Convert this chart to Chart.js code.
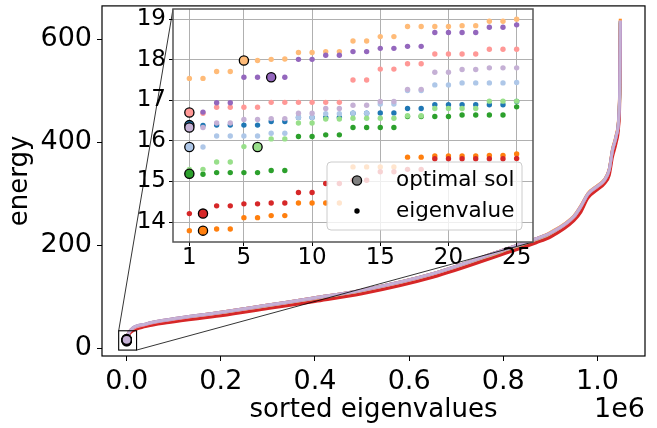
<!DOCTYPE html>
<html><head><meta charset="utf-8">
<script src="https://cdn.jsdelivr.net/npm/chart.js@4.4.1/dist/chart.umd.min.js"></script>
<style>
html,body{margin:0;padding:0;background:#fff;}
#wrap{position:relative;width:657px;height:428px;overflow:hidden;}
#wrap canvas{position:absolute;left:0;top:0;}
</style></head><body>
<div id="wrap"><canvas id="main" width="657" height="428"></canvas><canvas id="inset" width="657" height="428"></canvas></div>
<script>
// ---------------- data ----------------
// main panel: sorted eigenvalue index -> energy (one curve per Hamiltonian)
const spectrumIndex = [0, 2000, 10000, 40000, 90000, 200000, 300000, 400000, 500000, 650000, 800000, 870000, 900000, 950000, 965000, 980000, 1000000, 1015000, 1025000, 1032000, 1040000, 1045000, 1047500, 1048575];
const specBlue        = [16.4, 25, 36, 46, 55, 69, 83, 97, 112, 144, 190, 212, 223, 255, 275, 299, 314, 326, 346, 384, 412, 444, 512, 635];
const specLightBlue   = [15.9, 24, 36, 46, 55, 69, 83, 97, 112, 144, 190, 212, 223, 255, 274, 299, 314, 326, 346, 383, 411, 443, 511, 635];
const specOrange      = [13.8, 23, 35, 46, 55, 70, 84, 98, 113, 145, 191, 213, 225, 257, 277, 301, 316, 328, 348, 387, 415, 448, 520, 640];
const specLightOrange = [17.5, 26, 37, 47, 56, 70, 84, 98, 113, 145, 191, 213, 225, 257, 277, 301, 316, 328, 348, 386, 414, 447, 518, 638];
const specGreen       = [15.2, 24, 35, 45, 54, 68, 82, 96, 111, 143, 189, 211, 222, 254, 273, 298, 313, 325, 345, 382, 410, 442, 508, 634];
const specLightGreen  = [15.3, 24, 35, 45, 53, 67, 81, 95, 110, 142, 188, 210, 221, 253, 272, 297, 312, 324, 343, 380, 408, 440, 505, 634];
const specRed         = [14.2, 22, 32, 42, 50, 63, 77, 91, 106, 138, 183, 205, 216, 248, 265, 292, 308, 320, 336, 372, 400, 430, 490, 632];
const specLightRed    = [16.7, 25, 36, 46, 55, 69, 83, 97, 112, 144, 190, 212, 223, 255, 275, 299, 314, 326, 346, 384, 412, 444, 512, 635];
const specPurple      = [16.7, 25, 37, 47, 56, 70, 84, 98, 113, 145, 191, 213, 224, 256, 276, 300, 315, 327, 347, 385, 413, 445, 515, 636];
const specLightPurple = [16.3, 25, 37, 47, 56, 70, 84, 98, 113, 145, 191, 213, 224, 256, 276, 300, 315, 327, 347, 385, 413, 445, 515, 636];

// inset: first 25 eigenvalues of each Hamiltonian
const eigIndex = [1,2,3,4,5,6,7,8,9,10,11,12,13,14,15,16,17,18,19,20,21,22,23,24,25];
const eigBlue        = [16.39,16.38,16.39,16.39,16.39,16.39,16.48,16.48,16.58,16.58,16.58,16.58,16.68,16.68,16.69,16.69,16.80,16.80,16.89,16.89,16.89,16.89,16.89,16.89,16.97];
const eigLightBlue   = [15.85,15.85,16.12,16.12,16.12,16.12,16.19,16.19,16.58,16.58,16.67,16.67,16.68,16.68,16.91,16.91,17.24,17.24,17.38,17.38,17.43,17.43,17.43,17.43,17.44];
const eigOrange      = [13.79,13.79,13.83,13.83,14.11,14.11,14.16,14.16,14.47,14.47,14.47,14.47,15.36,15.36,15.36,15.36,15.60,15.60,15.63,15.63,15.63,15.63,15.64,15.64,15.68];
const eigLightOrange = [17.54,17.54,17.71,17.71,17.98,17.98,18.01,18.02,18.18,18.18,18.20,18.20,18.46,18.46,18.57,18.57,18.82,18.82,18.82,18.82,18.84,18.84,18.95,18.95,19.00];
const eigGreen       = [15.19,15.18,15.22,15.22,15.22,15.22,15.27,15.27,16.11,16.11,16.15,16.15,16.33,16.33,16.33,16.33,16.60,16.60,16.60,16.60,16.64,16.64,16.64,16.64,16.84];
const eigLightGreen  = [15.30,15.30,15.48,15.48,15.86,15.85,16.05,16.05,16.44,16.44,16.54,16.54,16.56,16.56,16.56,16.56,16.62,16.62,16.80,16.80,16.80,16.80,16.98,16.98,16.98];
const eigRed         = [14.21,14.21,14.40,14.40,14.45,14.45,14.47,14.47,14.73,14.73,14.95,14.95,15.03,15.03,15.24,15.24,15.30,15.30,15.56,15.56,15.56,15.56,15.56,15.56,15.57];
const eigLightRed    = [16.70,16.68,16.83,16.83,16.83,16.83,16.95,16.95,16.95,16.95,16.95,16.95,17.50,17.50,17.77,17.77,17.90,17.90,18.14,18.14,18.14,18.14,18.26,18.26,18.26];
const eigPurple      = [16.71,16.71,16.94,16.94,17.57,17.57,17.57,17.57,18.01,18.01,18.11,18.11,18.20,18.20,18.28,18.28,18.33,18.33,18.67,18.67,18.67,18.67,18.80,18.80,18.86];
const eigLightPurple = [16.33,16.33,16.44,16.44,16.53,16.53,16.55,16.55,16.68,16.68,16.80,16.80,16.88,16.88,16.97,16.97,17.27,17.27,17.69,17.69,17.76,17.76,17.80,17.80,17.80];

// optimal solution of each Hamiltonian: (position among sorted eigenvalues, energy)
const optIndex  = [1, 1, 2, 5, 1, 6, 2, 1, 7, 1];
const optEnergy = [16.39, 15.85, 13.79, 17.98, 15.19, 15.85, 14.21, 16.70, 17.57, 16.33];

// ticks & labels
const mainXTicks = [0, 200000, 400000, 600000, 800000, 1000000];
const mainYTicks = [0, 200, 400, 600];
const insetXTicks = [1, 5, 10, 15, 20, 25];
const insetYTicks = [14, 15, 16, 17, 18, 19];
const legendLabels = ['optimal sol', 'eigenvalue'];
const xTitle = 'sorted eigenvalues';
const yTitle = 'energy';
const xOffsetText = '1e6';

// ---------------- style / layout ----------------
const palette = ['#1f77b4','#aec7e8','#ff7f0e','#ffbb78','#2ca02c','#98df8a','#d62728','#ff9896','#9467bd','#c5b0d5'];
const FONT = 'DejaVu Sans';
const mainRange = {xmin: -52429, xmax: 1101004, ymin: -15, ymax: 665};
const insetRange = {xmin: -0.2, xmax: 26.2, ymin: 13.51, ymax: 19.25};
const zoomBox = {x0: -17000, x1: 21000, y0: -3.5, y1: 34};   // indicator rectangle (data coords)
const insetArea = {left: 173, top: 9, right: 533, bottom: 242}; // inset axes in pixels

Chart.defaults.font.family = FONT;
Chart.defaults.color = '#000';
Chart.defaults.animation = false;

const spectra = [specBlue, specLightBlue, specOrange, specLightOrange, specGreen, specLightGreen, specRed, specLightRed, specPurple, specLightPurple];
const eigs = [eigBlue, eigLightBlue, eigOrange, eigLightOrange, eigGreen, eigLightGreen, eigRed, eigLightRed, eigPurple, eigLightPurple];

const noPad = s => { s.paddingTop = 0; s.paddingBottom = 0; s.paddingLeft = 0; s.paddingRight = 0; };

// ---------------- main chart ----------------
const mainSets = [];
spectra.forEach((arr, k) => mainSets.push({
  data: arr.map((v, i) => ({x: spectrumIndex[i], y: v})),
  showLine: true, pointRadius: 0, pointHoverRadius: 0, borderColor: palette[k], borderWidth: 3,
  cubicInterpolationMode: 'monotone', fill: false
}));
optIndex.forEach((ix, k) => mainSets.push({
  data: [{x: ix, y: optEnergy[k]}],
  pointRadius: 4.6, pointHoverRadius: 4.6, backgroundColor: palette[k], borderColor: '#000', borderWidth: 1.3
}));
mainSets.forEach((d, i) => { d.order = -i; });   // later series drawn on top

const mainDecor = {
  id: 'mainDecor',
  afterDatasetsDraw(chart) {
    const {ctx, chartArea: a, scales: {x, y}} = chart;
    ctx.save();
    const rx0 = x.getPixelForValue(zoomBox.x0), rx1 = x.getPixelForValue(zoomBox.x1);
    const ry0 = y.getPixelForValue(zoomBox.y1), ry1 = y.getPixelForValue(zoomBox.y0);
    ctx.strokeStyle = '#000'; ctx.lineWidth = 1.1;
    ctx.strokeRect(rx0, ry0, rx1 - rx0, ry1 - ry0);
    ctx.lineWidth = 0.8;
    ctx.beginPath();
    ctx.moveTo(rx0, ry0); ctx.lineTo(insetArea.left, insetArea.top);
    ctx.moveTo(rx1, ry1); ctx.lineTo(insetArea.right, insetArea.bottom);
    ctx.stroke();
    ctx.lineWidth = 1.2;
    ctx.strokeRect(a.left, a.top, a.right - a.left, a.bottom - a.top);
    ctx.restore();
  },
  afterDraw(chart) {
    const {ctx, chartArea: a} = chart;
    ctx.save();
    ctx.font = '27px ' + FONT; ctx.fillStyle = '#000';
    ctx.textAlign = 'right'; ctx.textBaseline = 'middle';
    ctx.fillText(xOffsetText, a.right, 409.5);
    ctx.restore();
  }
};

new Chart(document.getElementById('main'), {
  type: 'scatter',
  data: {datasets: mainSets},
  options: {
    responsive: false, devicePixelRatio: 1,
    layout: {padding: {left: 0, right: 12, top: 5, bottom: 0}},
    plugins: {legend: {display: false}, tooltip: {enabled: false}},
    scales: {
      x: {
        type: 'linear', min: mainRange.xmin, max: mainRange.xmax,
        afterBuildTicks: s => { s.ticks = mainXTicks.map(v => ({value: v})); },
        afterFit: s => { s.height = 72; noPad(s); },
        ticks: {font: {size: 27}, padding: 4.5, maxRotation: 0, callback: v => (v / 1e6).toFixed(1)},
        grid: {drawOnChartArea: false, drawTicks: true, tickLength: 5, color: '#000'},
        border: {display: false},
        title: {display: true, text: xTitle, font: {size: 26}, padding: {top: 0, bottom: 2.6}}
      },
      y: {
        type: 'linear', min: mainRange.ymin, max: mainRange.ymax,
        afterBuildTicks: s => { s.ticks = mainYTicks.map(v => ({value: v})); },
        afterFit: s => { s.width = 102; noPad(s); },
        ticks: {font: {size: 27}, padding: 5},
        grid: {drawOnChartArea: false, drawTicks: true, tickLength: 5, color: '#000'},
        border: {display: false},
        title: {display: true, text: yTitle, font: {size: 26}, padding: {top: 5, bottom: 0}}
      }
    }
  },
  plugins: [mainDecor]
});

// ---------------- inset chart ----------------
const insetSets = [];
eigs.forEach((arr, k) => insetSets.push({
  data: arr.map((v, i) => ({x: eigIndex[i], y: v})),
  pointRadius: 2.7, pointHoverRadius: 2.7, backgroundColor: palette[k], borderWidth: 0
}));
optIndex.forEach((ix, k) => insetSets.push({
  data: [{x: ix, y: optEnergy[k]}],
  pointRadius: 4.6, pointHoverRadius: 4.6, backgroundColor: palette[k], borderColor: '#000', borderWidth: 1.3
}));
insetSets.forEach((d, i) => { d.order = -i; });

const insetDecor = {
  id: 'insetDecor',
  beforeDraw(chart) {
    const {ctx, chartArea: a} = chart;
    ctx.save(); ctx.fillStyle = '#fff';
    ctx.fillRect(a.left, a.top, a.right - a.left, a.bottom - a.top);
    ctx.restore();
  },
  afterDatasetsDraw(chart) {
    const {ctx, chartArea: a} = chart;
    ctx.save();
    ctx.strokeStyle = '#555'; ctx.lineWidth = 1.5;
    ctx.strokeRect(a.left, a.top, a.right - a.left, a.bottom - a.top);
    const w = 195, h = 68;
    const lx = a.right - 11 - w, ly = a.bottom - 12 - h;
    ctx.beginPath();
    ctx.roundRect(lx, ly, w, h, 4);
    ctx.fillStyle = 'rgba(255,255,255,0.8)'; ctx.fill();
    ctx.strokeStyle = '#cccccc'; ctx.lineWidth = 1; ctx.stroke();
    const mx = lx + 30, r1 = ly + 18.5, r2 = ly + 49;
    ctx.beginPath(); ctx.arc(mx, r1, 4.6, 0, Math.PI * 2);
    ctx.fillStyle = '#808080'; ctx.fill(); ctx.strokeStyle = '#000'; ctx.lineWidth = 1.3; ctx.stroke();
    ctx.beginPath(); ctx.arc(mx, r2, 2.7, 0, Math.PI * 2);
    ctx.fillStyle = '#000'; ctx.fill();
    ctx.font = '21.5px ' + FONT; ctx.textAlign = 'left'; ctx.textBaseline = 'middle'; ctx.fillStyle = '#000';
    ctx.fillText(legendLabels[0], lx + 69, r1);
    ctx.fillText(legendLabels[1], lx + 69, r2);
    ctx.restore();
  }
};

new Chart(document.getElementById('inset'), {
  type: 'scatter',
  data: {datasets: insetSets},
  options: {
    responsive: false, devicePixelRatio: 1,
    layout: {padding: {left: insetArea.left - 40, right: 657 - insetArea.right, top: insetArea.top, bottom: 428 - insetArea.bottom - 30}},
    plugins: {legend: {display: false}, tooltip: {enabled: false}},
    scales: {
      x: {
        type: 'linear', min: insetRange.xmin, max: insetRange.xmax,
        afterBuildTicks: s => { s.ticks = insetXTicks.map(v => ({value: v})); },
        afterFit: s => { s.height = 30; noPad(s); },
        ticks: {font: {size: 23, lineHeight: 1}, padding: 0.5, maxRotation: 0},
        grid: {color: '#b0b0b0', lineWidth: 1, tickLength: 4, tickColor: '#000'},
        border: {display: false}
      },
      y: {
        type: 'linear', min: insetRange.ymin, max: insetRange.ymax,
        afterBuildTicks: s => { s.ticks = insetYTicks.map(v => ({value: v})); },
        afterFit: s => { s.width = 40; noPad(s); },
        ticks: {font: {size: 23}, padding: 3},
        grid: {color: '#b0b0b0', lineWidth: 1, tickLength: 4, tickColor: '#000'},
        border: {display: false}
      }
    }
  },
  plugins: [insetDecor]
});
</script>
</body></html>
